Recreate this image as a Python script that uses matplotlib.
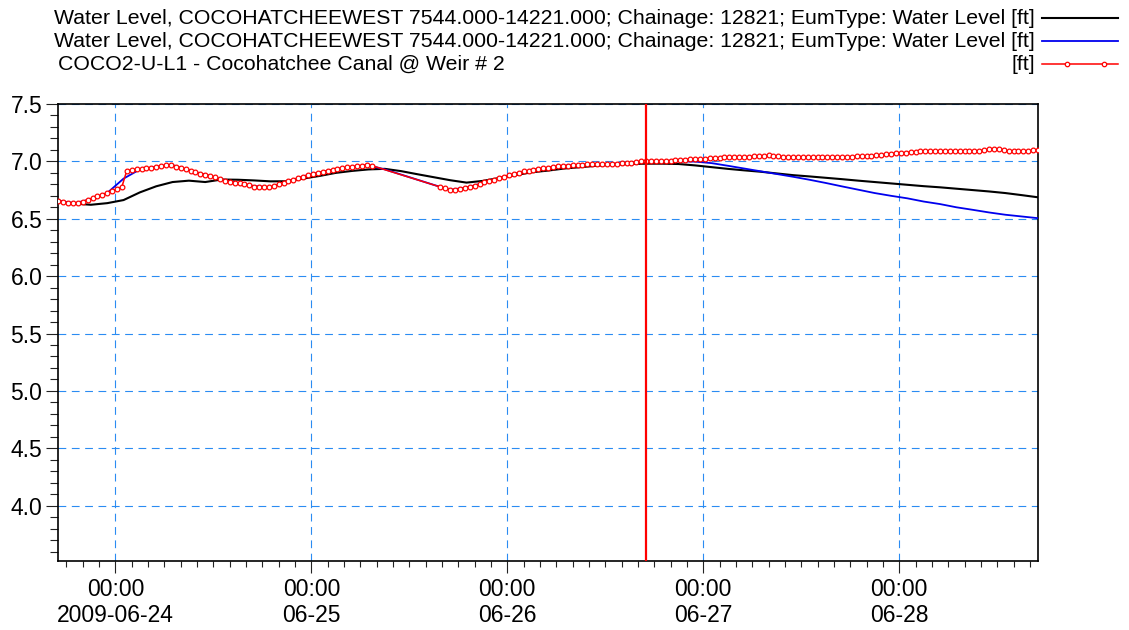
import matplotlib
matplotlib.use("Agg")
import matplotlib.pyplot as plt
import matplotlib.dates as mdates
from matplotlib.lines import Line2D
from matplotlib.ticker import MultipleLocator, FormatStrFormatter
import pandas as pd

plt.rcParams['font.family'] = ['Liberation Sans', 'DejaVu Sans']

# legend texts
sim_label = "Water Level, COCOHATCHEEWEST 7544.000-14221.000; Chainage: 12821; EumType: Water Level [ft]"
obs_label = "COCO2-U-L1 - Cocohatchee Canal @ Weir # 2"
obs_unit = "[ft]"

t_start = pd.Timestamp("2009-06-23 17:00")
t_end = pd.Timestamp("2009-06-28 17:00")
t_forecast = pd.Timestamp("2009-06-26 17:00")

# simulated series, every 2 hours from t_start
sim_times = pd.date_range(t_start, periods=61, freq="2h")
sim_black = [
    6.649, 6.632, 6.622, 6.636, 6.663, 6.730, 6.783, 6.820, 6.832, 6.820,
    6.842, 6.840, 6.834, 6.826, 6.827, 6.850, 6.873, 6.900, 6.917, 6.930,
    6.935, 6.915, 6.888, 6.862, 6.836, 6.815, 6.830, 6.855, 6.880, 6.905,
    6.920, 6.938, 6.950, 6.962, 6.971, 6.977, 6.980, 6.980, 6.977, 6.965,
    6.950, 6.935, 6.922, 6.910, 6.895, 6.880, 6.869, 6.857, 6.845, 6.832,
    6.820, 6.808, 6.796, 6.784, 6.774, 6.762, 6.750, 6.738, 6.724, 6.706,
    6.687,
]
sim_blue = [
    6.658, 6.636, 6.670, 6.725, 6.850, 6.930, 6.952, 6.968, 6.922, 6.885,
    6.843, 6.810, 6.785, 6.775, 6.820, 6.870, 6.905, 6.934, 6.952, 6.966,
    6.930, 6.885, 6.840, 6.795, 6.752, 6.773, 6.810, 6.853, 6.893, 6.925,
    6.946, 6.962, 6.970, 6.976, 6.980, 6.984, 7.005, 7.004, 7.000, 6.998,
    6.985, 6.962, 6.938, 6.914, 6.890, 6.866, 6.840, 6.812, 6.782, 6.753,
    6.724, 6.700, 6.678, 6.650, 6.628, 6.600, 6.578, 6.555, 6.535, 6.520,
    6.505,
]

# observed series (36 min step), with a gap on 06-25
obs_step = pd.Timedelta("36min")
obs_times_1 = pd.date_range(t_start, periods=65, freq=obs_step)
obs_1 = [
    6.658, 6.643, 6.636, 6.634, 6.636, 6.650, 6.666, 6.680, 6.694, 6.708,
    6.728, 6.745, 6.757, 6.780, 6.920, 6.924, 6.930, 6.934, 6.940, 6.945,
    6.952, 6.960, 6.966, 6.968, 6.955, 6.944, 6.932, 6.920, 6.906, 6.894,
    6.884, 6.875, 6.860, 6.845, 6.833, 6.822, 6.814, 6.810, 6.800, 6.790,
    6.781, 6.775, 6.775, 6.775, 6.785, 6.800, 6.813, 6.830, 6.840, 6.852,
    6.868, 6.878, 6.887, 6.900, 6.910, 6.920, 6.928, 6.935, 6.940, 6.947,
    6.952, 6.956, 6.962, 6.968, 6.963,
]
obs_times_2 = pd.date_range(t_start + 78 * obs_step, periods=123, freq=obs_step)
obs_2 = [
    6.777, 6.765, 6.750, 6.750, 6.763, 6.767, 6.777, 6.787, 6.800, 6.816,
    6.830, 6.840, 6.856, 6.868, 6.880, 6.890, 6.900, 6.913, 6.920, 6.926,
    6.933, 6.940, 6.946, 6.952, 6.958, 6.962, 6.964, 6.966, 6.968, 6.970,
    6.973, 6.975, 6.976, 6.976, 6.979, 6.980, 6.980, 6.982, 6.984, 6.988,
    6.994, 7.002, 7.005, 7.006, 7.006, 7.006, 7.006, 7.007, 7.009, 7.014,
    7.016, 7.018, 7.020, 7.020, 7.024, 7.028, 7.030, 7.030, 7.035, 7.040,
    7.042, 7.040, 7.040, 7.042, 7.044, 7.046, 7.047, 7.052, 7.050, 7.044,
    7.040, 7.039, 7.038, 7.038, 7.038, 7.038, 7.037, 7.038, 7.038, 7.038,
    7.038, 7.039, 7.040, 7.040, 7.042, 7.043, 7.043, 7.044, 7.048, 7.052,
    7.056, 7.061, 7.066, 7.071, 7.074, 7.077, 7.080, 7.086, 7.090, 7.090,
    7.090, 7.090, 7.090, 7.090, 7.090, 7.090, 7.090, 7.090, 7.091, 7.092,
    7.094, 7.096, 7.104, 7.106, 7.104, 7.095, 7.090, 7.090, 7.090, 7.090,
    7.090, 7.098, 7.100,
]
obs_times = obs_times_1.append(obs_times_2)
obs_vals = obs_1 + obs_2

day_ticks = pd.date_range("2009-06-24", "2009-06-28", freq="D")
day_labels = ["00:00\n" + (d.strftime("%Y-%m-%d") if i == 0 else d.strftime("%m-%d"))
              for i, d in enumerate(day_ticks)]

grid_col = "#2b8cf2"
obs_style = dict(color="red", lw=1.1, marker="o", ms=3.4, mfc="white", mec="red", mew=0.9)

fig = plt.figure(figsize=(11.29, 6.3), dpi=100)
ax = fig.add_axes([0.0516, 0.110, 0.8678, 0.7249])

ax.plot(sim_times, sim_black, color="black", lw=1.5, zorder=3)
ax.plot(sim_times, sim_blue, color="#0000ee", lw=1.3, zorder=4)
ax.plot(obs_times, obs_vals, zorder=5, **obs_style)
ax.axvline(t_forecast, color="red", lw=1.6, zorder=6)

ax.set_xlim(t_start, t_end)
ax.set_ylim(3.52, 7.5)

ax.set_xticks(day_ticks)
ax.set_xticklabels(day_labels, linespacing=1.15)
ax.xaxis.set_minor_locator(mdates.HourLocator(byhour=range(0, 24, 2)))
ax.yaxis.set_major_locator(MultipleLocator(0.5))
ax.yaxis.set_minor_locator(MultipleLocator(0.1))
ax.yaxis.set_major_formatter(FormatStrFormatter("%.1f"))

ax.grid(True, which="major", color=grid_col, lw=0.8, linestyle=(0, (7, 5)))
ax.tick_params(axis="both", which="both", direction="out", width=0.8, color="#222222")
ax.tick_params(axis="x", which="major", length=8.6, pad=4, labelsize=16.5)
ax.tick_params(axis="x", which="minor", length=4.3)
ax.tick_params(axis="y", which="major", length=8.4, pad=3, labelsize=16.5)
ax.tick_params(axis="y", which="minor", length=5.8)
for sp in ax.spines.values():
    sp.set_linewidth(1.2)

# legend above the plot, text right aligned with samples at the far right
fs_leg = 15.3
rows = [0.9714, 0.9349, 0.8984]
txt_x = 1035 / 1129
x0, x1 = 1042 / 1129, 1118 / 1129
fig.text(txt_x, rows[0], sim_label, ha="right", va="center", fontsize=fs_leg)
fig.text(txt_x, rows[1], sim_label, ha="right", va="center", fontsize=fs_leg)
fig.text(58 / 1129, rows[2], obs_label, ha="left", va="center", fontsize=fs_leg)
fig.text(txt_x, rows[2], obs_unit, ha="right", va="center", fontsize=fs_leg)
fig.add_artist(Line2D([x0, x1], [rows[0], rows[0]], transform=fig.transFigure, color="black", lw=1.5))
fig.add_artist(Line2D([x0, x1], [rows[1], rows[1]], transform=fig.transFigure, color="#0000ee", lw=1.3))
fig.add_artist(Line2D([x0, x1], [rows[2], rows[2]], transform=fig.transFigure, color="red", lw=1.1))
fig.add_artist(Line2D([1067 / 1129, 1104 / 1129], [rows[2], rows[2]], transform=fig.transFigure,
                      linestyle="none", marker="o", ms=3.2, mfc="white", mec="red", mew=0.9))

fig.savefig("out.png", dpi=100)
